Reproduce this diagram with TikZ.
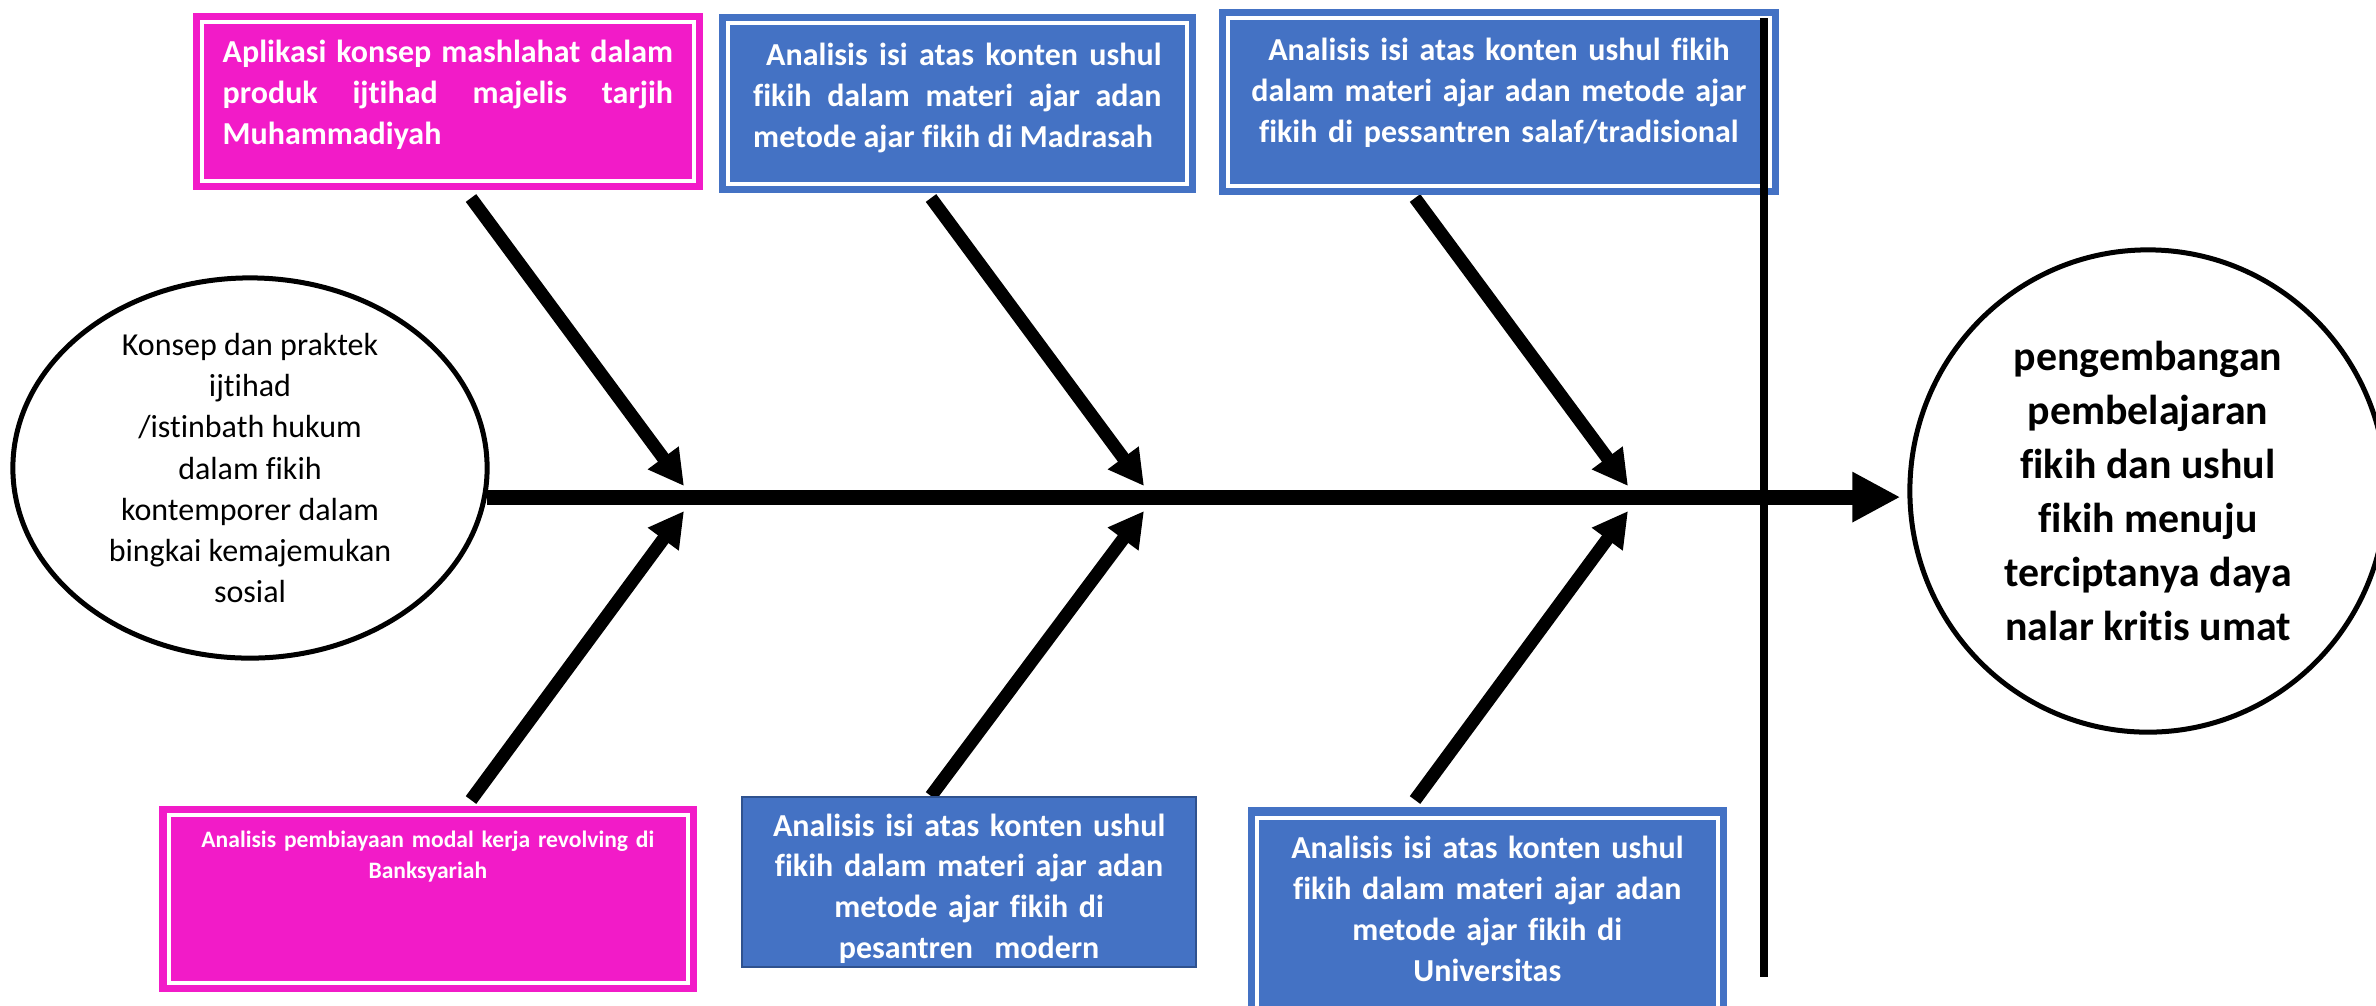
\documentclass[tikz,border=0pt]{standalone}
\usepackage{fontspec}
\setmainfont[Ligatures=NoCommon]{Carlito}
\usepackage{tikz}
\usetikzlibrary{arrows.meta, calc, shapes.geometric}
\usepackage{xcolor}
\definecolor{boxpink}{RGB}{242,27,200}
\definecolor{boxblue}{RGB}{68,114,196}
\definecolor{edgeblue}{RGB}{47,82,143}

\begin{document}
\begin{tikzpicture}[x=0.01cm,y=-0.01cm,every node/.style={inner xsep=0pt,inner ysep=0pt},
    causebox/.style={anchor=north west,text=white,font=\fontsize{9.1}{11.6}\selectfont\bfseries,execute at begin node=\hyphenpenalty10000\relax},
    pinkbox/.style={causebox,fill=boxpink},
    bluebox/.style={causebox,fill=boxblue},
    whiteframe/.style={draw=white,line width=0.04cm},
    bubble/.style={draw,ellipse,line width=0.05cm,inner sep=-0.2cm,align=center},
    bone/.style={line width=0.13cm,-{Triangle[length=0.35cm,width=0.36cm]}},
    spine/.style={line width=0.15cm,-{Triangle[length=0.48cm,width=0.47cm]}}]
    \clip (0,0) rectangle (2376,1005);

    \node[bubble,minimum width=4.74cm,minimum height=3.80cm,font=\fontsize{9.1}{11.7}\selectfont] (src) at (250,468) {Konsep dan praktek\\ijtihad\\/istinbath hukum\\dalam fikih\\kontemporer dalam\\bingkai kemajemukan\\sosial};
    \node[bubble,minimum width=4.76cm,minimum height=4.82cm,font=\fontsize{11.9}{15.4}\selectfont\bfseries] (goal) at (2148,491) {pengembangan\\pembelajaran\\fikih dan ushul\\fikih menuju\\terciptanya daya\\nalar kritis umat};
    \draw[spine,shorten >=0.07cm] (src.-7) -- (src.-7 -| goal.west);

    % bones: tails and heads on the spine
    \coordinate (from1) at (471,198);  \coordinate (to1) at (684,486);
    \coordinate (from2) at (931,198);  \coordinate (to2) at (1144,486);
    \coordinate (from3) at (1415,198); \coordinate (to3) at (1628,486);
    \coordinate (from4) at (471,800);  \coordinate (to4) at (684,511);
    \coordinate (from5) at (931,796);  \coordinate (to5) at (1144,511);
    \coordinate (from6) at (1415,800); \coordinate (to6) at (1628,511);
    \draw[bone] (from1) -- (to1);
    \draw[bone] (from2) -- (to2);
    \draw[bone] (from3) -- (to3);
    \draw[bone] (from4) -- (to4);
    \draw[bone] (from5) -- (to5);
    \draw[bone] (from6) -- (to6);

    \node[pinkbox,minimum width=5.10cm,text width=4.50cm,align=justify,text height=0.50cm,text depth=1.27cm] (b1) at (192,12) {Aplikasi konsep mashlahat dalam\linebreak produk ijtihad majelis tarjih\linebreak Muhammadiyah};
    \node[bluebox,minimum width=4.77cm,text width=4.08cm,align=justify,text height=0.52cm,text depth=1.27cm] (b2) at (718,13) {\hspace*{0.13cm}Analisis isi atas konten ushul\linebreak fikih dalam materi ajar adan\linebreak metode ajar fikih di Madrasah};
    \node[bluebox,minimum width=5.60cm,text width=5.00cm,align=center,text height=0.52cm,text depth=1.34cm] (b3) at (1218,8) {Analisis isi atas konten ushul fikih\\dalam materi ajar adan metode ajar\\fikih di pessantren salaf/tradisional};
    \node[pinkbox,minimum width=5.38cm,text width=4.80cm,align=center,text height=0.42cm,text depth=1.44cm,font=\fontsize{6.7}{8.8}\selectfont\bfseries] (b4) at (158,805) {Analisis pembiayaan modal kerja revolving di\\Banksyariah};
    \node[bluebox,draw=edgeblue,line width=0.02cm,minimum width=4.54cm,text width=4.20cm,align=center,text height=0.39cm,text depth=1.31cm] (b5) at (741,796) {Analisis isi atas konten ushul\\fikih dalam materi ajar adan\\metode ajar fikih di\\pesantren\ \ modern};
    \node[bluebox,minimum width=4.79cm,text width=4.20cm,align=center,text height=0.52cm,text depth=1.75cm] (b6) at (1247,806) {Analisis isi atas konten ushul\\fikih dalam materi ajar adan\\metode ajar fikih di\\Universitas};

    \draw[whiteframe] ($(b1.north west)+(10,10)$) rectangle ($(b1.south east)+(-10,-10)$);
    \draw[whiteframe] ($(b2.north west)+(10,10)$) rectangle ($(b2.south east)+(-10,-10)$);
    \draw[whiteframe] ($(b3.north west)+(10,10)$) rectangle ($(b3.south east)+(-10,-10)$);
    \draw[whiteframe] ($(b4.north west)+(11,10)$) rectangle ($(b4.south east)+(-10,-10)$);
    \draw[whiteframe] ($(b6.north west)+(10,12)$) rectangle ($(b6.south east)+(-10,-10)$);

    % divider through the third box
    \coordinate (rtop) at (1764,18);
    \coordinate (rbot) at (1764,977);
    \draw[line width=0.08cm] (rtop) -- (rbot);
\end{tikzpicture}
\end{document}
